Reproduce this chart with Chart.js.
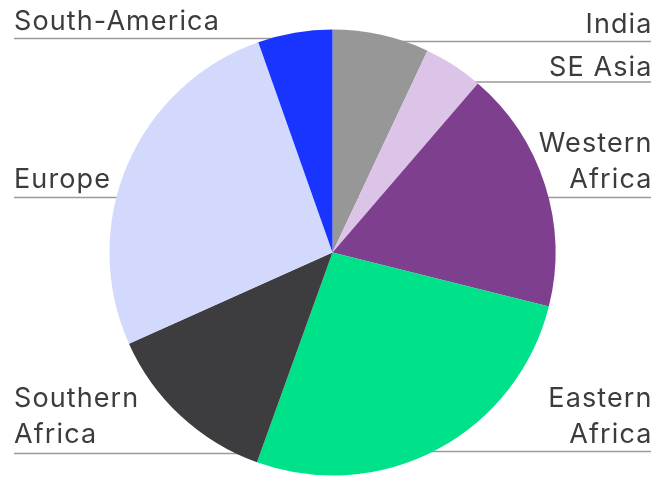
<!DOCTYPE html>
<html>
<head>
<meta charset="utf-8">
<script src="https://cdn.jsdelivr.net/npm/chart.js@4/dist/chart.umd.min.js"></script>
<style>
html,body{margin:0;padding:0;background:#fff;}
#wrap{width:656px;height:477px;position:relative;}
</style>
</head>
<body>
<div id="wrap"><canvas id="c" width="656" height="477"></canvas></div>
<script>
// ---- data ----
const categories = ['India', 'SE Asia', 'Western Africa', 'Eastern Africa', 'Southern Africa', 'Europe', 'South-America'];
const labelLines = [['India'], ['SE Asia'], ['Western', 'Africa'], ['Eastern', 'Africa'], ['Southern', 'Africa'], ['Europe'], ['South-America']];
const shares = [7.0, 4.3, 17.6, 26.6, 12.8, 26.3, 5.4];
const colors = ['#979797', '#dcc3e8', '#7f3f8f', '#00e28a', '#3d3c3f', '#d3d8fd', '#1a34ff'];

// ---- label layout (style only) ----
const labelLayout = {
  'India':          {side: 'right', lineY: 41.5,  baseY: 33},
  'SE Asia':        {side: 'right', lineY: 82,    baseY: 76},
  'Western Africa': {side: 'right', lineY: 197.5, baseY: 152},
  'Eastern Africa': {side: 'right', lineY: 451.5, baseY: 407},
  'Southern Africa':{side: 'left',  lineY: 453.5, baseY: 407},
  'Europe':         {side: 'left',  lineY: 197.5, baseY: 188},
  'South-America':  {side: 'left',  lineY: 38.5,  baseY: 30}
};
const LEFT_X = 14, RIGHT_X = 651, LINE_H = 35.5;
const FONT = '27px Inter';

const labelPlugin = {
  id: 'sideLabels',
  beforeDatasetsDraw(chart) {
    const ctx = chart.ctx;
    const meta = chart.getDatasetMeta(0);
    const cx = meta.data[0].x;
    ctx.save();
    ctx.strokeStyle = '#9a9a9a';
    ctx.lineWidth = 1.5;
    categories.forEach(cat => {
      const L = labelLayout[cat];
      ctx.beginPath();
      if (L.side === 'left') { ctx.moveTo(LEFT_X, L.lineY); ctx.lineTo(cx, L.lineY); }
      else { ctx.moveTo(cx, L.lineY); ctx.lineTo(RIGHT_X, L.lineY); }
      ctx.stroke();
    });
    ctx.restore();
  },
  afterDraw(chart) {
    const ctx = chart.ctx;
    ctx.save();
    ctx.font = FONT;
    ctx.fillStyle = '#3c3c3f';
    ctx.textBaseline = 'alphabetic';
    try { ctx.letterSpacing = '1.1px'; } catch (e) {}
    categories.forEach((cat, i) => {
      const L = labelLayout[cat];
      const lines = labelLines[i];
      ctx.textAlign = L.side === 'left' ? 'left' : 'right';
      lines.forEach((t, k) => {
        ctx.fillText(t, L.side === 'left' ? LEFT_X : RIGHT_X + 1.5, L.baseY + k * LINE_H);
      });
    });
    ctx.restore();
  }
};

new Chart(document.getElementById('c'), {
  type: 'pie',
  data: {
    labels: categories,
    datasets: [{
      data: shares,
      backgroundColor: colors,
      borderWidth: 0,
      hoverOffset: 0
    }]
  },
  options: {
    responsive: false,
    animation: false,
    layout: {padding: {left: 109.5, right: 100.5, top: 29.5, bottom: 1.5}},
    plugins: {legend: {display: false}, tooltip: {enabled: false}},
    events: []
  },
  plugins: [labelPlugin]
});
</script>
</body>
</html>
